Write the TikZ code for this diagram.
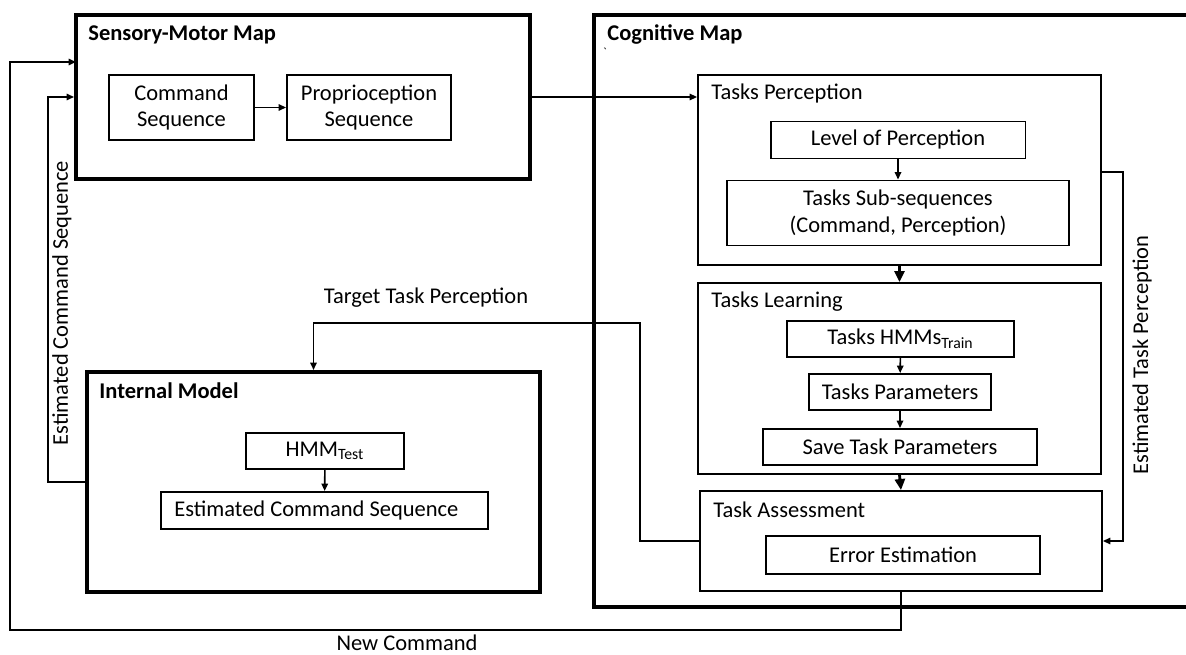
\documentclass[tikz,border=0pt]{standalone}
\usepackage{fontspec}
\setmainfont{Carlito}
\usetikzlibrary{arrows.meta}

\begin{document}
\begin{tikzpicture}[x=0.02cm, y=-0.02cm, semithick,
  font=\fontsize{12.8}{15}\selectfont,
  map/.style={draw, line width=2.3pt, inner sep=0pt},
  part/.style={draw, line width=1.1pt, inner sep=0pt},
  blk/.style={draw, line width=1.1pt, inner sep=2pt, align=center},
  flow/.style={line width=0.9pt, -{Triangle[length=1.5mm,width=1.3mm]}},
  bigflow/.style={line width=1.6pt, -{Triangle[length=2.2mm,width=2mm]}},
  head/.style={anchor=west, font=\fontsize{12.8}{15}\selectfont\bfseries},
  sub/.style={anchor=west}]
  \useasboundingbox (0,0) rectangle (1186,655);

  % sensory-motor map
  \node [map, minimum width=9.08cm, minimum height=3.28cm] (sm) at (303,97) {};
  \node [head] (smt) at (82,35) {Sensory-Motor Map};
  \node [blk, minimum width=2.9cm, minimum height=1.3cm] (cs) at (181.5,107.5) {Command\\Sequence};
  \node [blk, minimum width=3.28cm, minimum height=1.3cm] (ps) at (369,107.5) {Proprioception\\Sequence};
  \draw [flow] (cs) -- (ps);

  % cognitive map
  \draw [line width=2.3pt] (1186,15) -- (594,15) -- (594,607) -- (1186,607);
  \node [head] (cmt) at (601,35) {Cognitive Map};
  \node [font=\scriptsize] (tick) at (605,52) {\textasciigrave};

  \node [part, minimum width=8.06cm, minimum height=3.8cm] (tp) at (899.5,170) {};
  \node [sub] (tpt) at (705,94) {Tasks Perception};
  \node [blk, minimum width=5.1cm, minimum height=0.74cm] (lop) at (898,140) {Level of Perception};
  \node [blk, minimum width=6.84cm, minimum height=1.3cm] (tss) at (898,213) {Tasks Sub-sequences\\(Command, Perception)};

  \node [part, minimum width=8.06cm, minimum height=3.82cm] (tl) at (899.5,378.5) {};
  \node [sub] (tlt) at (705,302) {Tasks Learning};
  \node [blk, minimum width=4.54cm, minimum height=0.72cm] (hmms) at (900.5,339) {Tasks HMMs\textsubscript{Train}};
  \node [blk, minimum width=3.64cm, minimum height=0.72cm] (par) at (900,392) {Tasks Parameters};
  \node [blk, minimum width=5.48cm, minimum height=0.72cm] (save) at (900,447) {Save Task Parameters};

  \node [part, minimum width=8.04cm, minimum height=2.0cm] (ta) at (901,541) {};
  \node [sub] (tat) at (707,510) {Task Assessment};
  \node [blk, minimum width=5.48cm, minimum height=0.76cm] (err) at (903,555) {Error Estimation};

  \draw [flow] (lop) -- (tss);
  \draw [flow] (hmms) -- (par);
  \draw [flow] (par) -- (save);
  \draw [bigflow] (tp.south) -- (tl.north);
  \draw [bigflow] (tl.south) -- (ta.north);

  % internal model
  \node [map, minimum width=9.06cm, minimum height=4.4cm] (im) at (313.5,482) {};
  \node [head] (imt) at (93,391) {Internal Model};
  \node [blk, minimum width=3.16cm, minimum height=0.72cm] (hmmt) at (325,451) {HMM\textsubscript{Test}};
  \node [blk, minimum width=6.54cm, minimum height=0.74cm] (ecs) at (324.5,510.5) {};
  \node [anchor=west] (ecst) at (168,510.5) {Estimated Command Sequence};
  \draw [flow] (hmmt) -- (ecs);

  % feedback loops
  \coordinate (tg1) at (640,541);
  \coordinate (tg2) at (640,323);
  \coordinate (ec1) at (48,482);
  \coordinate (nc1) at (901,630);
  \coordinate (nc2) at (10,630);
  \coordinate (et1) at (1123,172);
  \draw [flow] (sm.east) -- (sm.east -| tp.west);
  \draw [flow] (ta.west) -- (tg1) -- (tg2) -- (tg2 -| im.north) -- (im.north);
  \draw [flow] (im.west) -- (ec1) -- (ec1 |- sm.west) -- (sm.west);
  \draw [flow] (ta.south) -- (nc1) -- (nc2) -- (10,62) -- (76,62);
  \draw [flow] (tp.east |- et1) -- (et1) -- (et1 |- ta.east) -- (ta.east);

  \node (tgl) at (426,298) {Target Task Perception};
  \node [rotate=90] (ecl) at (62,303) {Estimated Command Sequence};
  \node [rotate=90] (etl) at (1142,355) {Estimated Task Perception};
  \node (ncl) at (407,643) {New Command};
\end{tikzpicture}
\end{document}
